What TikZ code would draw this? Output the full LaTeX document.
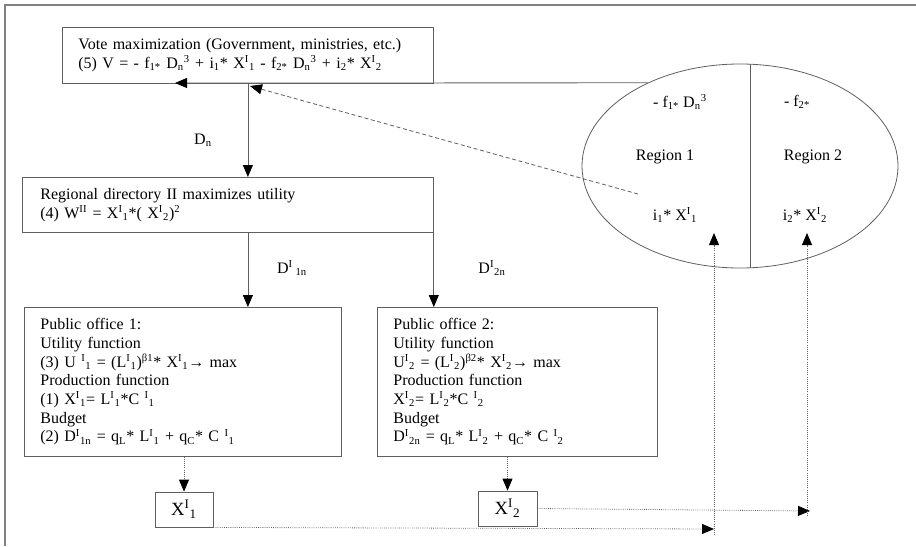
\documentclass[tikz,border=0pt]{standalone}
\usepackage{fontspec}
\setmainfont{Liberation Serif}
\usepackage{tikz}
\usetikzlibrary{arrows.meta,positioning,shapes.geometric,calc}
\definecolor{mygray}{RGB}{95,95,95}
\newcommand{\up}[1]{\textsuperscript{#1}}
\newcommand{\dn}[1]{\textsubscript{#1}}

\begin{document}
\begin{tikzpicture}[x=0.75pt,y=-0.75pt,
  font=\fontsize{12}{14}\selectfont,
  tip/.style={-{Triangle[length=9pt,width=7.5pt,black]}},
  box/.style={draw=mygray,line width=0.6pt,rectangle,anchor=north west,align=left,inner ysep=0pt},
  xbox/.style={draw=mygray,line width=0.6pt,rectangle,minimum width=43.5pt,minimum height=26.25pt,inner sep=0pt,font=\fontsize{14}{17}\selectfont},
  solidline/.style={draw=mygray,line width=0.6pt,tip},
  dotline/.style={draw=mygray,line width=0.6pt,densely dotted},
  dashline/.style={draw=mygray,line width=0.6pt,dash pattern=on 3pt off 2pt}
]
\useasboundingbox (0,0) rectangle (916,546);
\draw[gray,line width=1.2pt] (5,546) -- (5,5) -- (916,5);

% the boxes
\node[box,minimum width=278.25pt,minimum height=42pt,text width=254.25pt,inner xsep=12pt] (vote) at (62,27)
  {Vote maximization (Government, ministries, etc.)\\
   (5) V = - f\dn{1*} D\dn{n}\up{3} + i\dn{1}* X\up{I}\dn{1} - f\dn{2*} D\dn{n}\up{3} + i\dn{2}* X\up{I}\dn{2}};
\node[box,minimum width=308.25pt,minimum height=41.25pt,text width=281.25pt,inner xsep=13.5pt] (dir) at (22,177)
  {Regional directory II maximizes utility\\
   (4) W\up{II} = X\up{I}\dn{1}*( X\up{I}\dn{2})\up{2}};
\node[box,minimum width=237.75pt,minimum height=111.75pt,text width=213.75pt,inner xsep=12pt] (off1) at (24,307)
  {Public office 1:\\
   Utility function\\
   (3) U\up{ I}\dn{1} = (L\up{I}\dn{1})\up{β1}* X\up{I}\dn{1}→ max\\
   Production function\\
   (1) X\up{I}\dn{1}= L\up{I}\dn{1}*C\up{ I}\dn{1}\\
   Budget\\
   (2) D\up{I}\dn{1n} = q\dn{L}* L\up{I}\dn{1} + q\dn{C}* C\up{ I}\dn{1}};
\node[box,minimum width=210pt,minimum height=111.75pt,text width=186pt,inner xsep=12pt] (off2) at (377,307)
  {Public office 2:\\
   Utility function\\
   U\up{I}\dn{2} = (L\up{I}\dn{2})\up{β2}* X\up{I}\dn{2}→ max\\
   Production function\\
   X\up{I}\dn{2}= L\up{I}\dn{2}*C\up{ I}\dn{2}\\
   Budget\\
   D\up{I}\dn{2n} = q\dn{L}* L\up{I}\dn{2} + q\dn{C}* C\up{ I}\dn{2}};
\node[xbox] (x1) at (184,509.5) {X\up{I}\dn{1}};
\node[xbox,minimum width=44.25pt] (x2) at (507.5,508.5) {X\up{I}\dn{2}};

% the regions
\node[ellipse,draw=mygray,line width=0.6pt,minimum width=237pt,minimum height=153pt,inner sep=0pt] (reg) at (740,166) {};
\draw[mygray,line width=0.6pt] ($(reg.north)+(10,0.3)$) -- ($(reg.south)+(10,-0.3)$);
\node (f1) at (680,102) {- f\dn{1*} D\dn{n}\up{3}};
\node (f2) at (797,102) {- f\dn{2*}};
\node (r1) at (665,157) {Region 1};
\node (r2) at (813,157) {Region 2};
\node (i1) at (675,215) {i\dn{1}* X\up{I}\dn{1}};
\node (i2) at (805,215) {i\dn{2}* X\up{I}\dn{2}};

% the labels
\node (dn) at (203,140) {D\dn{n}};
\node (d1n) at (292,268) {D\up{I}\dn{ 1n}};
\node (d2n) at (492,268) {D\up{I}\dn{2n}};

% free ends
\coordinate (vin) at (175,83);
\coordinate (vdash) at (250,86);
\coordinate (rdash) at (638,194);
\coordinate (c1) at (714,529);
\coordinate (c1low) at (714,535);
\coordinate (c1up) at (714,233);
\coordinate (c2) at (810,511);
\coordinate (c2low) at (807,516);
\coordinate (c2up) at (807,233);

% the edges
\draw[solidline] (reg.138) -- (vin);
\draw[dashline,tip] (rdash) -- (vdash);
\draw[solidline] (vote.south) -- (vote.south |- dir.north);
\draw[solidline] (dir.south -| vote.south) -- (vote.south |- off1.north);
\draw[solidline] (dir.south east) -- (dir.south east |- off2.north);
\draw[dotline,tip] (x1.north |- off1.south) -- (x1.north);
\draw[dotline,tip] (x2.north |- off2.south) -- (x2.north);
\draw[dotline,tip] (x1.south east) -- (c1);
\draw[dotline,tip] (c1low) -- (c1up);
\draw[dotline,tip] (x2.east) -- (c2);
\draw[dotline,tip] (c2low) -- (c2up);
\end{tikzpicture}
\end{document}
